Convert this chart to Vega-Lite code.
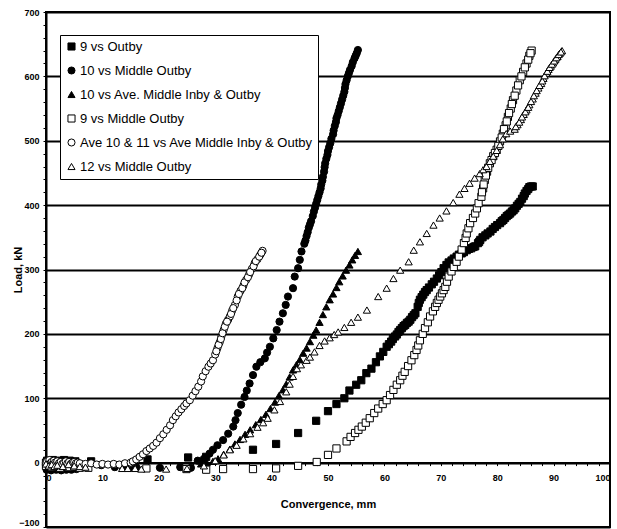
{
  "$schema": "https://vega.github.io/schema/vega-lite/v6.json",
  "width": 564,
  "height": 515,
  "autosize": {"type": "none"},
  "padding": {"left": 46, "top": 12, "right": 7, "bottom": 2},
  "background": "white",
  "config": {"view": {"stroke": "black", "strokeWidth": 2}, "font": "Liberation Sans"},
  "data": {"values": [
{"s":"9 vs Outby","x":0,"y":0},{"s":"9 vs Outby","x":0.3,"y":-2},{"s":"9 vs Outby","x":0.6,"y":-4},{"s":"9 vs Outby","x":1,"y":-3},{"s":"9 vs Outby","x":1.5,"y":-5},{"s":"9 vs Outby","x":2,"y":-2},{"s":"9 vs Outby","x":2.5,"y":-4},{"s":"9 vs Outby","x":3,"y":-3},{"s":"9 vs Outby","x":3.5,"y":-5},{"s":"9 vs Outby","x":4,"y":-2},{"s":"9 vs Outby","x":5,"y":-4},{"s":"9 vs Outby","x":6,"y":-3},{"s":"9 vs Outby","x":0.2,"y":3},{"s":"9 vs Outby","x":1.2,"y":4},{"s":"9 vs Outby","x":2.2,"y":3},{"s":"9 vs Outby","x":3.2,"y":4},{"s":"9 vs Outby","x":4.2,"y":3},{"s":"9 vs Outby","x":5.2,"y":2},{"s":"9 vs Outby","x":8,"y":2},{"s":"9 vs Outby","x":18,"y":5},{"s":"9 vs Outby","x":25.2,"y":8},{"s":"9 vs Outby","x":28.4,"y":9},{"s":"9 vs Outby","x":36.7,"y":20},{"s":"9 vs Outby","x":40.8,"y":29},{"s":"9 vs Outby","x":44.7,"y":46},{"s":"9 vs Outby","x":47.9,"y":65},{"s":"9 vs Outby","x":50,"y":80},{"s":"9 vs Outby","x":51.5,"y":91},{"s":"9 vs Outby","x":52.9,"y":100},{"s":"9 vs Outby","x":53.8,"y":112},{"s":"9 vs Outby","x":55,"y":121},{"s":"9 vs Outby","x":55.9,"y":128},{"s":"9 vs Outby","x":56.8,"y":139},{"s":"9 vs Outby","x":57.7,"y":146},{"s":"9 vs Outby","x":58.5,"y":156},{"s":"9 vs Outby","x":59.2,"y":165},{"s":"9 vs Outby","x":59.8,"y":172},{"s":"9 vs Outby","x":60.4,"y":180},{"s":"9 vs Outby","x":61.2,"y":188},{"s":"9 vs Outby","x":61.9,"y":196},{"s":"9 vs Outby","x":62.5,"y":203},{"s":"9 vs Outby","x":63.1,"y":209},{"s":"9 vs Outby","x":63.7,"y":214},{"s":"9 vs Outby","x":64.3,"y":219},{"s":"9 vs Outby","x":64.9,"y":226},{"s":"9 vs Outby","x":65.5,"y":232},{"s":"9 vs Outby","x":65.9,"y":242},{"s":"9 vs Outby","x":66.3,"y":253},{"s":"9 vs Outby","x":66.9,"y":261},{"s":"9 vs Outby","x":67.5,"y":268},{"s":"9 vs Outby","x":68.4,"y":277},{"s":"9 vs Outby","x":69.3,"y":286},{"s":"9 vs Outby","x":70.1,"y":296},{"s":"9 vs Outby","x":71,"y":307},{"s":"9 vs Outby","x":71.9,"y":314},{"s":"9 vs Outby","x":72.8,"y":320},{"s":"9 vs Outby","x":73.7,"y":325},{"s":"9 vs Outby","x":74.6,"y":330},{"s":"9 vs Outby","x":75.4,"y":333},{"s":"9 vs Outby","x":76.1,"y":336},{"s":"9 vs Outby","x":76.6,"y":341},{"s":"9 vs Outby","x":77,"y":346},{"s":"9 vs Outby","x":77.9,"y":353},{"s":"9 vs Outby","x":78.8,"y":359},{"s":"9 vs Outby","x":79.6,"y":366},{"s":"9 vs Outby","x":80.5,"y":372},{"s":"9 vs Outby","x":81.1,"y":377},{"s":"9 vs Outby","x":81.7,"y":383},{"s":"9 vs Outby","x":82.3,"y":387},{"s":"9 vs Outby","x":82.9,"y":392},{"s":"9 vs Outby","x":83.5,"y":399},{"s":"9 vs Outby","x":84.1,"y":405},{"s":"9 vs Outby","x":84.7,"y":414},{"s":"9 vs Outby","x":85.2,"y":422},{"s":"9 vs Outby","x":85.7,"y":428},{"s":"9 vs Outby","x":86.3,"y":429},
{"s":"9 vs Outby","x":60.8,"y":184},{"s":"9 vs Outby","x":61.5,"y":192},{"s":"9 vs Outby","x":62.2,"y":199},{"s":"9 vs Outby","x":62.8,"y":206},{"s":"9 vs Outby","x":63.4,"y":212},{"s":"9 vs Outby","x":64,"y":217},{"s":"9 vs Outby","x":64.6,"y":222},{"s":"9 vs Outby","x":65.2,"y":229},{"s":"9 vs Outby","x":66.1,"y":248},{"s":"9 vs Outby","x":66.6,"y":257},{"s":"9 vs Outby","x":67.2,"y":265},{"s":"9 vs Outby","x":67.9,"y":272},{"s":"9 vs Outby","x":68.8,"y":281},{"s":"9 vs Outby","x":69.7,"y":291},{"s":"9 vs Outby","x":70.5,"y":302},{"s":"9 vs Outby","x":71.4,"y":311},{"s":"9 vs Outby","x":72.3,"y":317},{"s":"9 vs Outby","x":73.2,"y":323},{"s":"9 vs Outby","x":74.1,"y":327},{"s":"9 vs Outby","x":75,"y":332},{"s":"9 vs Outby","x":75.8,"y":335},{"s":"9 vs Outby","x":76.8,"y":343},{"s":"9 vs Outby","x":77.4,"y":350},{"s":"9 vs Outby","x":78.3,"y":356},{"s":"9 vs Outby","x":79.2,"y":363},{"s":"9 vs Outby","x":80,"y":369},{"s":"9 vs Outby","x":80.8,"y":375},{"s":"9 vs Outby","x":81.4,"y":380},{"s":"9 vs Outby","x":82,"y":385},{"s":"9 vs Outby","x":82.6,"y":390},{"s":"9 vs Outby","x":83.2,"y":395},{"s":"9 vs Outby","x":83.8,"y":402},{"s":"9 vs Outby","x":84.4,"y":410},{"s":"9 vs Outby","x":84.9,"y":418},{"s":"9 vs Outby","x":85.5,"y":425},{"s":"9 vs Outby","x":86,"y":429},
{"s":"10 vs Middle Outby","x":0,"y":-3},{"s":"10 vs Middle Outby","x":0.3,"y":-5},{"s":"10 vs Middle Outby","x":0.6,"y":-2},{"s":"10 vs Middle Outby","x":1,"y":-6},{"s":"10 vs Middle Outby","x":1.5,"y":-4},{"s":"10 vs Middle Outby","x":2,"y":-6},{"s":"10 vs Middle Outby","x":2.5,"y":-3},{"s":"10 vs Middle Outby","x":3,"y":-5},{"s":"10 vs Middle Outby","x":3.5,"y":-6},{"s":"10 vs Middle Outby","x":4,"y":-4},{"s":"10 vs Middle Outby","x":4.5,"y":-6},{"s":"10 vs Middle Outby","x":5,"y":-5},{"s":"10 vs Middle Outby","x":6,"y":-6},{"s":"10 vs Middle Outby","x":0.1,"y":-11},{"s":"10 vs Middle Outby","x":0.9,"y":-12},{"s":"10 vs Middle Outby","x":1.8,"y":-11},{"s":"10 vs Middle Outby","x":2.7,"y":-12},{"s":"10 vs Middle Outby","x":3.6,"y":-11},{"s":"10 vs Middle Outby","x":4.5,"y":-11},{"s":"10 vs Middle Outby","x":5.4,"y":-10},{"s":"10 vs Middle Outby","x":9.8,"y":-4},{"s":"10 vs Middle Outby","x":12.2,"y":-7},{"s":"10 vs Middle Outby","x":13.6,"y":-8},{"s":"10 vs Middle Outby","x":14.8,"y":-8},{"s":"10 vs Middle Outby","x":16,"y":-7},{"s":"10 vs Middle Outby","x":20.2,"y":-8},{"s":"10 vs Middle Outby","x":23.8,"y":-7},{"s":"10 vs Middle Outby","x":25.7,"y":-8},{"s":"10 vs Middle Outby","x":26.9,"y":3},{"s":"10 vs Middle Outby","x":28,"y":6},{"s":"10 vs Middle Outby","x":29,"y":14},{"s":"10 vs Middle Outby","x":29.6,"y":20},{"s":"10 vs Middle Outby","x":30.4,"y":27},{"s":"10 vs Middle Outby","x":31.4,"y":35},{"s":"10 vs Middle Outby","x":32.3,"y":45},{"s":"10 vs Middle Outby","x":33.2,"y":56},{"s":"10 vs Middle Outby","x":33.6,"y":66},{"s":"10 vs Middle Outby","x":34,"y":77},{"s":"10 vs Middle Outby","x":34.6,"y":90},{"s":"10 vs Middle Outby","x":35.2,"y":102},{"s":"10 vs Middle Outby","x":35.6,"y":112},{"s":"10 vs Middle Outby","x":36.1,"y":123},{"s":"10 vs Middle Outby","x":36.7,"y":136},{"s":"10 vs Middle Outby","x":37.3,"y":149},{"s":"10 vs Middle Outby","x":38,"y":156},{"s":"10 vs Middle Outby","x":38.8,"y":162},{"s":"10 vs Middle Outby","x":39.2,"y":171},{"s":"10 vs Middle Outby","x":39.7,"y":180},{"s":"10 vs Middle Outby","x":40.3,"y":193},{"s":"10 vs Middle Outby","x":40.9,"y":206},{"s":"10 vs Middle Outby","x":41.4,"y":219},{"s":"10 vs Middle Outby","x":42,"y":232},{"s":"10 vs Middle Outby","x":42.5,"y":245},{"s":"10 vs Middle Outby","x":42.9,"y":258},{"s":"10 vs Middle Outby","x":43.8,"y":271},{"s":"10 vs Middle Outby","x":44.1,"y":289},{"s":"10 vs Middle Outby","x":44.7,"y":302},{"s":"10 vs Middle Outby","x":45,"y":315},{"s":"10 vs Middle Outby","x":45.3,"y":328},{"s":"10 vs Middle Outby","x":45.8,"y":340},{"s":"10 vs Middle Outby","x":46.2,"y":352},{"s":"10 vs Middle Outby","x":46.6,"y":365},{"s":"10 vs Middle Outby","x":47,"y":375},{"s":"10 vs Middle Outby","x":47.3,"y":383},{"s":"10 vs Middle Outby","x":47.7,"y":396},{"s":"10 vs Middle Outby","x":48.1,"y":408},{"s":"10 vs Middle Outby","x":48.5,"y":420},{"s":"10 vs Middle Outby","x":48.8,"y":432},{"s":"10 vs Middle Outby","x":49.1,"y":444},{"s":"10 vs Middle Outby","x":49.4,"y":459},{"s":"10 vs Middle Outby","x":49.7,"y":472},{"s":"10 vs Middle Outby","x":50,"y":484},{"s":"10 vs Middle Outby","x":50.4,"y":496},{"s":"10 vs Middle Outby","x":50.9,"y":510},{"s":"10 vs Middle Outby","x":51.2,"y":523},{"s":"10 vs Middle Outby","x":51.5,"y":535},{"s":"10 vs Middle Outby","x":51.9,"y":546},{"s":"10 vs Middle Outby","x":52.3,"y":558},{"s":"10 vs Middle Outby","x":52.7,"y":570},{"s":"10 vs Middle Outby","x":53,"y":582},{"s":"10 vs Middle Outby","x":53.3,"y":594},{"s":"10 vs Middle Outby","x":53.7,"y":605},{"s":"10 vs Middle Outby","x":54.2,"y":616},{"s":"10 vs Middle Outby","x":54.7,"y":628},{"s":"10 vs Middle Outby","x":55.1,"y":636},{"s":"10 vs Middle Outby","x":55.3,"y":641},
{"s":"10 vs Middle Outby","x":46,"y":345},{"s":"10 vs Middle Outby","x":46.4,"y":358},{"s":"10 vs Middle Outby","x":46.8,"y":370},{"s":"10 vs Middle Outby","x":47.5,"y":390},{"s":"10 vs Middle Outby","x":47.9,"y":402},{"s":"10 vs Middle Outby","x":48.3,"y":414},{"s":"10 vs Middle Outby","x":48.7,"y":426},{"s":"10 vs Middle Outby","x":49,"y":438},{"s":"10 vs Middle Outby","x":49.3,"y":452},{"s":"10 vs Middle Outby","x":49.5,"y":465},{"s":"10 vs Middle Outby","x":49.9,"y":478},{"s":"10 vs Middle Outby","x":50.2,"y":490},{"s":"10 vs Middle Outby","x":50.6,"y":503},{"s":"10 vs Middle Outby","x":51,"y":516},{"s":"10 vs Middle Outby","x":51.4,"y":529},{"s":"10 vs Middle Outby","x":51.7,"y":540},{"s":"10 vs Middle Outby","x":52.1,"y":552},{"s":"10 vs Middle Outby","x":52.5,"y":564},{"s":"10 vs Middle Outby","x":52.9,"y":576},{"s":"10 vs Middle Outby","x":53.1,"y":588},{"s":"10 vs Middle Outby","x":53.5,"y":600},{"s":"10 vs Middle Outby","x":53.9,"y":610},{"s":"10 vs Middle Outby","x":54.4,"y":622},{"s":"10 vs Middle Outby","x":54.9,"y":632},
{"s":"10 vs Ave. Middle Inby & Outby","x":0,"y":-2},{"s":"10 vs Ave. Middle Inby & Outby","x":0.5,"y":-4},{"s":"10 vs Ave. Middle Inby & Outby","x":1,"y":-1},{"s":"10 vs Ave. Middle Inby & Outby","x":1.5,"y":-3},{"s":"10 vs Ave. Middle Inby & Outby","x":2,"y":-5},{"s":"10 vs Ave. Middle Inby & Outby","x":3,"y":-2},{"s":"10 vs Ave. Middle Inby & Outby","x":4,"y":-4},{"s":"10 vs Ave. Middle Inby & Outby","x":5,"y":-3},{"s":"10 vs Ave. Middle Inby & Outby","x":6,"y":-5},{"s":"10 vs Ave. Middle Inby & Outby","x":27.5,"y":-2},{"s":"10 vs Ave. Middle Inby & Outby","x":28.5,"y":0},{"s":"10 vs Ave. Middle Inby & Outby","x":29.6,"y":2},{"s":"10 vs Ave. Middle Inby & Outby","x":30.5,"y":6},{"s":"10 vs Ave. Middle Inby & Outby","x":31.5,"y":13},{"s":"10 vs Ave. Middle Inby & Outby","x":32.6,"y":21},{"s":"10 vs Ave. Middle Inby & Outby","x":33.5,"y":29},{"s":"10 vs Ave. Middle Inby & Outby","x":34.4,"y":36},{"s":"10 vs Ave. Middle Inby & Outby","x":35.3,"y":44},{"s":"10 vs Ave. Middle Inby & Outby","x":36.2,"y":51},{"s":"10 vs Ave. Middle Inby & Outby","x":37.2,"y":59},{"s":"10 vs Ave. Middle Inby & Outby","x":38.1,"y":67},{"s":"10 vs Ave. Middle Inby & Outby","x":39,"y":75},{"s":"10 vs Ave. Middle Inby & Outby","x":39.8,"y":84},{"s":"10 vs Ave. Middle Inby & Outby","x":40.6,"y":94},{"s":"10 vs Ave. Middle Inby & Outby","x":41.3,"y":104},{"s":"10 vs Ave. Middle Inby & Outby","x":42,"y":113},{"s":"10 vs Ave. Middle Inby & Outby","x":42.6,"y":122},{"s":"10 vs Ave. Middle Inby & Outby","x":43.2,"y":133},{"s":"10 vs Ave. Middle Inby & Outby","x":43.8,"y":144},{"s":"10 vs Ave. Middle Inby & Outby","x":44.4,"y":152},{"s":"10 vs Ave. Middle Inby & Outby","x":45,"y":160},{"s":"10 vs Ave. Middle Inby & Outby","x":45.6,"y":170},{"s":"10 vs Ave. Middle Inby & Outby","x":46.2,"y":178},{"s":"10 vs Ave. Middle Inby & Outby","x":46.8,"y":188},{"s":"10 vs Ave. Middle Inby & Outby","x":47.4,"y":198},{"s":"10 vs Ave. Middle Inby & Outby","x":47.9,"y":206},{"s":"10 vs Ave. Middle Inby & Outby","x":48.5,"y":218},{"s":"10 vs Ave. Middle Inby & Outby","x":49.1,"y":230},{"s":"10 vs Ave. Middle Inby & Outby","x":49.7,"y":242},{"s":"10 vs Ave. Middle Inby & Outby","x":50.3,"y":253},{"s":"10 vs Ave. Middle Inby & Outby","x":50.9,"y":262},{"s":"10 vs Ave. Middle Inby & Outby","x":51.5,"y":272},{"s":"10 vs Ave. Middle Inby & Outby","x":52,"y":281},{"s":"10 vs Ave. Middle Inby & Outby","x":52.6,"y":290},{"s":"10 vs Ave. Middle Inby & Outby","x":53.2,"y":299},{"s":"10 vs Ave. Middle Inby & Outby","x":53.8,"y":307},{"s":"10 vs Ave. Middle Inby & Outby","x":54.3,"y":315},{"s":"10 vs Ave. Middle Inby & Outby","x":54.8,"y":322},{"s":"10 vs Ave. Middle Inby & Outby","x":55.3,"y":328},
{"s":"9 vs Middle Outby","x":0,"y":-5},{"s":"9 vs Middle Outby","x":0.5,"y":-3},{"s":"9 vs Middle Outby","x":1,"y":-7},{"s":"9 vs Middle Outby","x":1.5,"y":-4},{"s":"9 vs Middle Outby","x":2,"y":-6},{"s":"9 vs Middle Outby","x":2.5,"y":-8},{"s":"9 vs Middle Outby","x":3,"y":-5},{"s":"9 vs Middle Outby","x":4,"y":-7},{"s":"9 vs Middle Outby","x":5,"y":-6},{"s":"9 vs Middle Outby","x":6,"y":-8},{"s":"9 vs Middle Outby","x":7.5,"y":-8},{"s":"9 vs Middle Outby","x":17.8,"y":-9},{"s":"9 vs Middle Outby","x":24.9,"y":-10},{"s":"9 vs Middle Outby","x":28.4,"y":-11},{"s":"9 vs Middle Outby","x":31.4,"y":-10},{"s":"9 vs Middle Outby","x":36.7,"y":-10},{"s":"9 vs Middle Outby","x":40.8,"y":-9},{"s":"9 vs Middle Outby","x":44.7,"y":-5},{"s":"9 vs Middle Outby","x":48,"y":1},{"s":"9 vs Middle Outby","x":50,"y":12},{"s":"9 vs Middle Outby","x":51.5,"y":22},{"s":"9 vs Middle Outby","x":53.3,"y":33},{"s":"9 vs Middle Outby","x":54,"y":40},{"s":"9 vs Middle Outby","x":54.8,"y":46},{"s":"9 vs Middle Outby","x":55.4,"y":51},{"s":"9 vs Middle Outby","x":56,"y":56},{"s":"9 vs Middle Outby","x":56.7,"y":62},{"s":"9 vs Middle Outby","x":57.4,"y":69},{"s":"9 vs Middle Outby","x":58.2,"y":77},{"s":"9 vs Middle Outby","x":58.9,"y":84},{"s":"9 vs Middle Outby","x":59.7,"y":91},{"s":"9 vs Middle Outby","x":60.4,"y":97},{"s":"9 vs Middle Outby","x":61,"y":105},{"s":"9 vs Middle Outby","x":61.6,"y":113},{"s":"9 vs Middle Outby","x":62.2,"y":121},{"s":"9 vs Middle Outby","x":62.8,"y":128},{"s":"9 vs Middle Outby","x":63.2,"y":135},{"s":"9 vs Middle Outby","x":63.6,"y":141},{"s":"9 vs Middle Outby","x":64.2,"y":150},{"s":"9 vs Middle Outby","x":64.8,"y":159},{"s":"9 vs Middle Outby","x":65.3,"y":167},{"s":"9 vs Middle Outby","x":65.7,"y":175},{"s":"9 vs Middle Outby","x":66,"y":182},{"s":"9 vs Middle Outby","x":66.3,"y":190},{"s":"9 vs Middle Outby","x":66.8,"y":200},{"s":"9 vs Middle Outby","x":67.2,"y":209},{"s":"9 vs Middle Outby","x":67.7,"y":218},{"s":"9 vs Middle Outby","x":68.1,"y":227},{"s":"9 vs Middle Outby","x":68.6,"y":235},{"s":"9 vs Middle Outby","x":69,"y":242},{"s":"9 vs Middle Outby","x":69.3,"y":248},{"s":"9 vs Middle Outby","x":69.6,"y":253},{"s":"9 vs Middle Outby","x":69.9,"y":258},{"s":"9 vs Middle Outby","x":70.2,"y":263},{"s":"9 vs Middle Outby","x":70.5,"y":268},{"s":"9 vs Middle Outby","x":70.8,"y":273},{"s":"9 vs Middle Outby","x":71.1,"y":281},{"s":"9 vs Middle Outby","x":71.4,"y":289},{"s":"9 vs Middle Outby","x":71.9,"y":297},{"s":"9 vs Middle Outby","x":72.3,"y":304},{"s":"9 vs Middle Outby","x":72.8,"y":312},{"s":"9 vs Middle Outby","x":73.2,"y":320},{"s":"9 vs Middle Outby","x":73.7,"y":331},{"s":"9 vs Middle Outby","x":74.1,"y":341},{"s":"9 vs Middle Outby","x":74.4,"y":349},{"s":"9 vs Middle Outby","x":74.6,"y":356},{"s":"9 vs Middle Outby","x":74.9,"y":364},{"s":"9 vs Middle Outby","x":75.2,"y":372},{"s":"9 vs Middle Outby","x":75.7,"y":380},{"s":"9 vs Middle Outby","x":76.1,"y":387},{"s":"9 vs Middle Outby","x":76.4,"y":395},{"s":"9 vs Middle Outby","x":76.7,"y":403},{"s":"9 vs Middle Outby","x":77.2,"y":413},{"s":"9 vs Middle Outby","x":77.5,"y":426},{"s":"9 vs Middle Outby","x":77.8,"y":439},{"s":"9 vs Middle Outby","x":78.2,"y":452},{"s":"9 vs Middle Outby","x":78.7,"y":465},{"s":"9 vs Middle Outby","x":79.3,"y":476},{"s":"9 vs Middle Outby","x":79.9,"y":486},{"s":"9 vs Middle Outby","x":80.5,"y":499},{"s":"9 vs Middle Outby","x":81,"y":511},{"s":"9 vs Middle Outby","x":81.5,"y":524},{"s":"9 vs Middle Outby","x":81.9,"y":537},{"s":"9 vs Middle Outby","x":82.4,"y":550},{"s":"9 vs Middle Outby","x":82.8,"y":563},{"s":"9 vs Middle Outby","x":83.4,"y":578},{"s":"9 vs Middle Outby","x":84,"y":594},{"s":"9 vs Middle Outby","x":84.6,"y":607},{"s":"9 vs Middle Outby","x":85.2,"y":620},{"s":"9 vs Middle Outby","x":85.7,"y":632},{"s":"9 vs Middle Outby","x":86.1,"y":640},
{"s":"9 vs Middle Outby","x":77.3,"y":420},{"s":"9 vs Middle Outby","x":77.6,"y":432},{"s":"9 vs Middle Outby","x":78,"y":446},{"s":"9 vs Middle Outby","x":78.4,"y":458},{"s":"9 vs Middle Outby","x":79,"y":470},{"s":"9 vs Middle Outby","x":79.6,"y":481},{"s":"9 vs Middle Outby","x":80.2,"y":492},{"s":"9 vs Middle Outby","x":80.8,"y":505},{"s":"9 vs Middle Outby","x":81.2,"y":518},{"s":"9 vs Middle Outby","x":81.7,"y":530},{"s":"9 vs Middle Outby","x":82.1,"y":543},{"s":"9 vs Middle Outby","x":82.6,"y":557},{"s":"9 vs Middle Outby","x":83.1,"y":570},{"s":"9 vs Middle Outby","x":83.7,"y":586},{"s":"9 vs Middle Outby","x":84.3,"y":600},{"s":"9 vs Middle Outby","x":84.9,"y":614},{"s":"9 vs Middle Outby","x":85.5,"y":626},{"s":"9 vs Middle Outby","x":85.9,"y":636},
{"s":"Ave 10 & 11 vs Ave Middle Inby & Outby","x":0,"y":0},{"s":"Ave 10 & 11 vs Ave Middle Inby & Outby","x":0.2,"y":2},{"s":"Ave 10 & 11 vs Ave Middle Inby & Outby","x":0.4,"y":-3},{"s":"Ave 10 & 11 vs Ave Middle Inby & Outby","x":0.6,"y":4},{"s":"Ave 10 & 11 vs Ave Middle Inby & Outby","x":0.8,"y":-1},{"s":"Ave 10 & 11 vs Ave Middle Inby & Outby","x":1,"y":1},{"s":"Ave 10 & 11 vs Ave Middle Inby & Outby","x":1.2,"y":-2},{"s":"Ave 10 & 11 vs Ave Middle Inby & Outby","x":1.4,"y":3},{"s":"Ave 10 & 11 vs Ave Middle Inby & Outby","x":1.6,"y":0},{"s":"Ave 10 & 11 vs Ave Middle Inby & Outby","x":1.8,"y":-2},{"s":"Ave 10 & 11 vs Ave Middle Inby & Outby","x":2,"y":2},{"s":"Ave 10 & 11 vs Ave Middle Inby & Outby","x":2.3,"y":-1},{"s":"Ave 10 & 11 vs Ave Middle Inby & Outby","x":2.6,"y":1},{"s":"Ave 10 & 11 vs Ave Middle Inby & Outby","x":2.9,"y":-2},{"s":"Ave 10 & 11 vs Ave Middle Inby & Outby","x":3.2,"y":0},{"s":"Ave 10 & 11 vs Ave Middle Inby & Outby","x":3.5,"y":2},{"s":"Ave 10 & 11 vs Ave Middle Inby & Outby","x":3.8,"y":-1},{"s":"Ave 10 & 11 vs Ave Middle Inby & Outby","x":4.1,"y":1},{"s":"Ave 10 & 11 vs Ave Middle Inby & Outby","x":4.4,"y":-2},{"s":"Ave 10 & 11 vs Ave Middle Inby & Outby","x":4.7,"y":0},{"s":"Ave 10 & 11 vs Ave Middle Inby & Outby","x":5,"y":1},{"s":"Ave 10 & 11 vs Ave Middle Inby & Outby","x":5.3,"y":-1},{"s":"Ave 10 & 11 vs Ave Middle Inby & Outby","x":5.6,"y":0},{"s":"Ave 10 & 11 vs Ave Middle Inby & Outby","x":6,"y":-1},{"s":"Ave 10 & 11 vs Ave Middle Inby & Outby","x":7,"y":-2},{"s":"Ave 10 & 11 vs Ave Middle Inby & Outby","x":8,"y":-1},{"s":"Ave 10 & 11 vs Ave Middle Inby & Outby","x":9,"y":-3},{"s":"Ave 10 & 11 vs Ave Middle Inby & Outby","x":10,"y":-2},{"s":"Ave 10 & 11 vs Ave Middle Inby & Outby","x":11,"y":-3},{"s":"Ave 10 & 11 vs Ave Middle Inby & Outby","x":12,"y":-2},{"s":"Ave 10 & 11 vs Ave Middle Inby & Outby","x":13,"y":-3},{"s":"Ave 10 & 11 vs Ave Middle Inby & Outby","x":14,"y":-1},{"s":"Ave 10 & 11 vs Ave Middle Inby & Outby","x":15,"y":0},{"s":"Ave 10 & 11 vs Ave Middle Inby & Outby","x":15.4,"y":2},{"s":"Ave 10 & 11 vs Ave Middle Inby & Outby","x":16,"y":5},{"s":"Ave 10 & 11 vs Ave Middle Inby & Outby","x":16.6,"y":9},{"s":"Ave 10 & 11 vs Ave Middle Inby & Outby","x":17.2,"y":13},{"s":"Ave 10 & 11 vs Ave Middle Inby & Outby","x":17.8,"y":18},{"s":"Ave 10 & 11 vs Ave Middle Inby & Outby","x":18.4,"y":22},{"s":"Ave 10 & 11 vs Ave Middle Inby & Outby","x":19,"y":26},{"s":"Ave 10 & 11 vs Ave Middle Inby & Outby","x":19.6,"y":31},{"s":"Ave 10 & 11 vs Ave Middle Inby & Outby","x":20.2,"y":38},{"s":"Ave 10 & 11 vs Ave Middle Inby & Outby","x":20.8,"y":44},{"s":"Ave 10 & 11 vs Ave Middle Inby & Outby","x":21.4,"y":51},{"s":"Ave 10 & 11 vs Ave Middle Inby & Outby","x":22,"y":58},{"s":"Ave 10 & 11 vs Ave Middle Inby & Outby","x":22.5,"y":66},{"s":"Ave 10 & 11 vs Ave Middle Inby & Outby","x":23,"y":72},{"s":"Ave 10 & 11 vs Ave Middle Inby & Outby","x":23.5,"y":78},{"s":"Ave 10 & 11 vs Ave Middle Inby & Outby","x":24,"y":83},{"s":"Ave 10 & 11 vs Ave Middle Inby & Outby","x":24.5,"y":88},{"s":"Ave 10 & 11 vs Ave Middle Inby & Outby","x":24.9,"y":92},{"s":"Ave 10 & 11 vs Ave Middle Inby & Outby","x":25.5,"y":97},{"s":"Ave 10 & 11 vs Ave Middle Inby & Outby","x":26,"y":104},{"s":"Ave 10 & 11 vs Ave Middle Inby & Outby","x":26.5,"y":111},{"s":"Ave 10 & 11 vs Ave Middle Inby & Outby","x":27,"y":118},{"s":"Ave 10 & 11 vs Ave Middle Inby & Outby","x":27.5,"y":126},{"s":"Ave 10 & 11 vs Ave Middle Inby & Outby","x":27.8,"y":134},{"s":"Ave 10 & 11 vs Ave Middle Inby & Outby","x":28.3,"y":142},{"s":"Ave 10 & 11 vs Ave Middle Inby & Outby","x":28.8,"y":149},{"s":"Ave 10 & 11 vs Ave Middle Inby & Outby","x":29.2,"y":154},{"s":"Ave 10 & 11 vs Ave Middle Inby & Outby","x":29.6,"y":159},{"s":"Ave 10 & 11 vs Ave Middle Inby & Outby","x":30,"y":168},{"s":"Ave 10 & 11 vs Ave Middle Inby & Outby","x":30.4,"y":178},{"s":"Ave 10 & 11 vs Ave Middle Inby & Outby","x":30.8,"y":187},{"s":"Ave 10 & 11 vs Ave Middle Inby & Outby","x":31.1,"y":196},{"s":"Ave 10 & 11 vs Ave Middle Inby & Outby","x":31.5,"y":206},{"s":"Ave 10 & 11 vs Ave Middle Inby & Outby","x":31.9,"y":216},{"s":"Ave 10 & 11 vs Ave Middle Inby & Outby","x":32.3,"y":222},{"s":"Ave 10 & 11 vs Ave Middle Inby & Outby","x":32.6,"y":227},{"s":"Ave 10 & 11 vs Ave Middle Inby & Outby","x":33,"y":236},{"s":"Ave 10 & 11 vs Ave Middle Inby & Outby","x":33.5,"y":245},{"s":"Ave 10 & 11 vs Ave Middle Inby & Outby","x":34,"y":258},{"s":"Ave 10 & 11 vs Ave Middle Inby & Outby","x":34.5,"y":267},{"s":"Ave 10 & 11 vs Ave Middle Inby & Outby","x":35,"y":275},{"s":"Ave 10 & 11 vs Ave Middle Inby & Outby","x":35.5,"y":284},{"s":"Ave 10 & 11 vs Ave Middle Inby & Outby","x":36,"y":292},{"s":"Ave 10 & 11 vs Ave Middle Inby & Outby","x":36.5,"y":301},{"s":"Ave 10 & 11 vs Ave Middle Inby & Outby","x":37,"y":310},{"s":"Ave 10 & 11 vs Ave Middle Inby & Outby","x":37.5,"y":316},{"s":"Ave 10 & 11 vs Ave Middle Inby & Outby","x":38,"y":323},{"s":"Ave 10 & 11 vs Ave Middle Inby & Outby","x":38.4,"y":329},
{"s":"Ave 10 & 11 vs Ave Middle Inby & Outby","x":30.2,"y":173},{"s":"Ave 10 & 11 vs Ave Middle Inby & Outby","x":30.6,"y":183},{"s":"Ave 10 & 11 vs Ave Middle Inby & Outby","x":31,"y":192},{"s":"Ave 10 & 11 vs Ave Middle Inby & Outby","x":31.3,"y":201},{"s":"Ave 10 & 11 vs Ave Middle Inby & Outby","x":31.7,"y":211},{"s":"Ave 10 & 11 vs Ave Middle Inby & Outby","x":32.1,"y":219},{"s":"Ave 10 & 11 vs Ave Middle Inby & Outby","x":32.8,"y":231},{"s":"Ave 10 & 11 vs Ave Middle Inby & Outby","x":33.2,"y":240},{"s":"Ave 10 & 11 vs Ave Middle Inby & Outby","x":33.8,"y":252},{"s":"Ave 10 & 11 vs Ave Middle Inby & Outby","x":34.2,"y":262},{"s":"Ave 10 & 11 vs Ave Middle Inby & Outby","x":34.8,"y":271},{"s":"Ave 10 & 11 vs Ave Middle Inby & Outby","x":35.2,"y":280},{"s":"Ave 10 & 11 vs Ave Middle Inby & Outby","x":35.8,"y":288},{"s":"Ave 10 & 11 vs Ave Middle Inby & Outby","x":36.2,"y":296},{"s":"Ave 10 & 11 vs Ave Middle Inby & Outby","x":36.8,"y":305},{"s":"Ave 10 & 11 vs Ave Middle Inby & Outby","x":37.2,"y":313},{"s":"Ave 10 & 11 vs Ave Middle Inby & Outby","x":37.8,"y":320},{"s":"Ave 10 & 11 vs Ave Middle Inby & Outby","x":38.2,"y":326},
{"s":"12 vs Middle Outby","x":0,"y":-2},{"s":"12 vs Middle Outby","x":0.5,"y":-5},{"s":"12 vs Middle Outby","x":1,"y":-3},{"s":"12 vs Middle Outby","x":1.5,"y":-6},{"s":"12 vs Middle Outby","x":2,"y":-4},{"s":"12 vs Middle Outby","x":3,"y":-6},{"s":"12 vs Middle Outby","x":4,"y":-3},{"s":"12 vs Middle Outby","x":5,"y":-5},{"s":"12 vs Middle Outby","x":6,"y":-6},{"s":"12 vs Middle Outby","x":7,"y":-7},{"s":"12 vs Middle Outby","x":13.5,"y":-9},{"s":"12 vs Middle Outby","x":14.5,"y":-9},{"s":"12 vs Middle Outby","x":15.8,"y":-9},{"s":"12 vs Middle Outby","x":16.9,"y":-10},{"s":"12 vs Middle Outby","x":21.3,"y":-10},{"s":"12 vs Middle Outby","x":25,"y":-9},{"s":"12 vs Middle Outby","x":28,"y":-5},{"s":"12 vs Middle Outby","x":30,"y":3},{"s":"12 vs Middle Outby","x":31.5,"y":12},{"s":"12 vs Middle Outby","x":32.6,"y":20},{"s":"12 vs Middle Outby","x":33.8,"y":27},{"s":"12 vs Middle Outby","x":35,"y":37},{"s":"12 vs Middle Outby","x":36.2,"y":45},{"s":"12 vs Middle Outby","x":37.5,"y":55},{"s":"12 vs Middle Outby","x":38.5,"y":62},{"s":"12 vs Middle Outby","x":39.3,"y":69},{"s":"12 vs Middle Outby","x":40.5,"y":82},{"s":"12 vs Middle Outby","x":41.5,"y":95},{"s":"12 vs Middle Outby","x":42.6,"y":110},{"s":"12 vs Middle Outby","x":43.2,"y":122},{"s":"12 vs Middle Outby","x":43.8,"y":134},{"s":"12 vs Middle Outby","x":44.5,"y":146},{"s":"12 vs Middle Outby","x":45.2,"y":152},{"s":"12 vs Middle Outby","x":46.2,"y":159},{"s":"12 vs Middle Outby","x":46.8,"y":164},{"s":"12 vs Middle Outby","x":47.6,"y":172},{"s":"12 vs Middle Outby","x":48.5,"y":182},{"s":"12 vs Middle Outby","x":49.4,"y":189},{"s":"12 vs Middle Outby","x":50.3,"y":194},{"s":"12 vs Middle Outby","x":51.1,"y":199},{"s":"12 vs Middle Outby","x":51.8,"y":203},{"s":"12 vs Middle Outby","x":52.9,"y":210},{"s":"12 vs Middle Outby","x":54.1,"y":218},{"s":"12 vs Middle Outby","x":55.3,"y":226},{"s":"12 vs Middle Outby","x":56.9,"y":237},{"s":"12 vs Middle Outby","x":58.9,"y":258},{"s":"12 vs Middle Outby","x":60.4,"y":271},{"s":"12 vs Middle Outby","x":61.6,"y":286},{"s":"12 vs Middle Outby","x":62.8,"y":299},{"s":"12 vs Middle Outby","x":64.3,"y":312},{"s":"12 vs Middle Outby","x":65.2,"y":330},{"s":"12 vs Middle Outby","x":66.3,"y":343},{"s":"12 vs Middle Outby","x":67.5,"y":356},{"s":"12 vs Middle Outby","x":68.7,"y":369},{"s":"12 vs Middle Outby","x":69.8,"y":380},{"s":"12 vs Middle Outby","x":71,"y":391},{"s":"12 vs Middle Outby","x":72.2,"y":404},{"s":"12 vs Middle Outby","x":73.3,"y":417},{"s":"12 vs Middle Outby","x":74.2,"y":426},{"s":"12 vs Middle Outby","x":75.1,"y":434},{"s":"12 vs Middle Outby","x":76,"y":442},{"s":"12 vs Middle Outby","x":76.9,"y":449},{"s":"12 vs Middle Outby","x":77.5,"y":455},{"s":"12 vs Middle Outby","x":78.1,"y":460},{"s":"12 vs Middle Outby","x":78.7,"y":468},{"s":"12 vs Middle Outby","x":79.3,"y":476},{"s":"12 vs Middle Outby","x":79.9,"y":485},{"s":"12 vs Middle Outby","x":80.5,"y":494},{"s":"12 vs Middle Outby","x":81,"y":503},{"s":"12 vs Middle Outby","x":81.6,"y":511},{"s":"12 vs Middle Outby","x":82.3,"y":515},{"s":"12 vs Middle Outby","x":83.1,"y":518},{"s":"12 vs Middle Outby","x":83.6,"y":525},{"s":"12 vs Middle Outby","x":84.2,"y":533},{"s":"12 vs Middle Outby","x":84.7,"y":541},{"s":"12 vs Middle Outby","x":85.2,"y":548},{"s":"12 vs Middle Outby","x":85.7,"y":556},{"s":"12 vs Middle Outby","x":86.3,"y":565},{"s":"12 vs Middle Outby","x":86.8,"y":574},{"s":"12 vs Middle Outby","x":87.3,"y":582},{"s":"12 vs Middle Outby","x":87.8,"y":589},{"s":"12 vs Middle Outby","x":88.2,"y":597},{"s":"12 vs Middle Outby","x":88.7,"y":605},{"s":"12 vs Middle Outby","x":89.1,"y":611},{"s":"12 vs Middle Outby","x":89.5,"y":616},{"s":"12 vs Middle Outby","x":89.9,"y":621},{"s":"12 vs Middle Outby","x":90.3,"y":626},{"s":"12 vs Middle Outby","x":90.7,"y":631},{"s":"12 vs Middle Outby","x":91.1,"y":636},{"s":"12 vs Middle Outby","x":91.5,"y":640},
{"s":"12 vs Middle Outby","x":83.3,"y":522},{"s":"12 vs Middle Outby","x":83.9,"y":529},{"s":"12 vs Middle Outby","x":84.4,"y":537},{"s":"12 vs Middle Outby","x":85,"y":545},{"s":"12 vs Middle Outby","x":85.5,"y":552},{"s":"12 vs Middle Outby","x":86,"y":561},{"s":"12 vs Middle Outby","x":86.5,"y":570},{"s":"12 vs Middle Outby","x":87,"y":578},{"s":"12 vs Middle Outby","x":87.5,"y":586},{"s":"12 vs Middle Outby","x":88,"y":593},{"s":"12 vs Middle Outby","x":88.4,"y":601},{"s":"12 vs Middle Outby","x":88.9,"y":608},{"s":"12 vs Middle Outby","x":89.3,"y":614},{"s":"12 vs Middle Outby","x":89.7,"y":619},{"s":"12 vs Middle Outby","x":90.1,"y":624},{"s":"12 vs Middle Outby","x":90.5,"y":629},{"s":"12 vs Middle Outby","x":90.9,"y":634},{"s":"12 vs Middle Outby","x":91.3,"y":638}
  ]},
  "mark": {"type": "point", "filled": true, "strokeWidth": 1, "opacity": 1, "size": 52},
  "encoding": {
    "x": {
      "field": "x", "type": "quantitative",
      "scale": {"domain": [0, 100], "nice": false},
      "axis": {
        "title": "Convergence, mm",
        "values": [0,2,4,6,8,10,12,14,16,18,20,22,24,26,28,30,32,34,36,38,40,42,44,46,48,50,52,54,56,58,60,62,64,66,68,70,72,74,76,78,80,82,84,86,88,90,92,94,96,98,100],
        "labelExpr": "datum.value % 10 === 0 ? datum.label : ''",
        "labelOverlap": false,
        "offset": -64.4,
        "grid": false,
        "domainColor": "black", "domainWidth": 2,
        "tickColor": "black", "tickWidth": 1, "tickSize": 3,
        "labelFont": "Liberation Sans", "labelFontWeight": "bold", "labelFontSize": 9, "labelColor": "black",
        "labelPadding": 8,
        "titleFont": "Liberation Sans", "titleFontWeight": "bold", "titleFontSize": 11, "titleColor": "black",
        "titlePadding": 16
      }
    },
    "y": {
      "field": "y", "type": "quantitative",
      "scale": {"domain": [-100, 700], "nice": false, "zero": false},
      "axis": {
        "title": "Load, kN",
        "values": [-100,-80,-60,-40,-20,0,20,40,60,80,100,120,140,160,180,200,220,240,260,280,300,320,340,360,380,400,420,440,460,480,500,520,540,560,580,600,620,640,660,680,700],
        "labelExpr": "datum.value % 100 === 0 ? datum.label : ''",
        "labelOverlap": false,
        "labelBaseline": {"condition": {"test": "datum.value === -100", "value": "bottom"}, "value": "middle"},
        "grid": true,
        "gridColor": "black", "gridWidth": 2,
        "gridOpacity": {"condition": {"test": "datum.value % 100 === 0", "value": 1}, "value": 0},
        "domainColor": "black", "domainWidth": 2,
        "tickColor": "black", "tickWidth": 1, "tickSize": 3,
        "labelFont": "Liberation Sans", "labelFontWeight": "bold", "labelFontSize": 9, "labelColor": "black",
        "labelPadding": 4,
        "titleFont": "Liberation Sans", "titleFontWeight": "bold", "titleFontSize": 11, "titleColor": "black",
        "titlePadding": -5
      }
    },
    "stroke": {"value": "black"},
    "shape": {
      "field": "s", "type": "nominal",
      "scale": {
        "domain": ["9 vs Outby", "10 vs Middle Outby", "10 vs Ave. Middle Inby & Outby", "9 vs Middle Outby", "Ave 10 & 11 vs Ave Middle Inby & Outby", "12 vs Middle Outby"],
        "range": ["square", "circle", "triangle-up", "square", "circle", "triangle-up"]
      },
      "legend": {
        "title": null, "orient": "none", "legendX": 14, "legendY": 23,
        "fillColor": "white", "strokeColor": "black", "padding": 5, "rowPadding": 10,
        "labelFont": "Liberation Sans", "labelFontSize": 13, "labelColor": "black", "labelOffset": 2, "labelLimit": 400,
        "symbolSize": 50, "symbolStrokeWidth": 1,
        "encode": {"symbols": {"update": {"stroke": {"value": "black"}, "strokeWidth": {"value": 1}, "strokeOpacity": {"value": 1}, "opacity": {"value": 1}}}}
      }
    },
    "fill": {
      "field": "s", "type": "nominal",
      "scale": {
        "domain": ["9 vs Outby", "10 vs Middle Outby", "10 vs Ave. Middle Inby & Outby", "9 vs Middle Outby", "Ave 10 & 11 vs Ave Middle Inby & Outby", "12 vs Middle Outby"],
        "range": ["black", "black", "black", "white", "white", "white"]
      },
      "legend": {
        "title": null, "orient": "none", "legendX": 14, "legendY": 23,
        "fillColor": "white", "strokeColor": "black", "padding": 5, "rowPadding": 10,
        "labelFont": "Liberation Sans", "labelFontSize": 13, "labelColor": "black", "labelOffset": 2, "labelLimit": 400,
        "symbolSize": 50, "symbolStrokeWidth": 1,
        "encode": {"symbols": {"update": {"stroke": {"value": "black"}, "strokeWidth": {"value": 1}, "strokeOpacity": {"value": 1}, "opacity": {"value": 1}}}}
      }
    }
  }
}
